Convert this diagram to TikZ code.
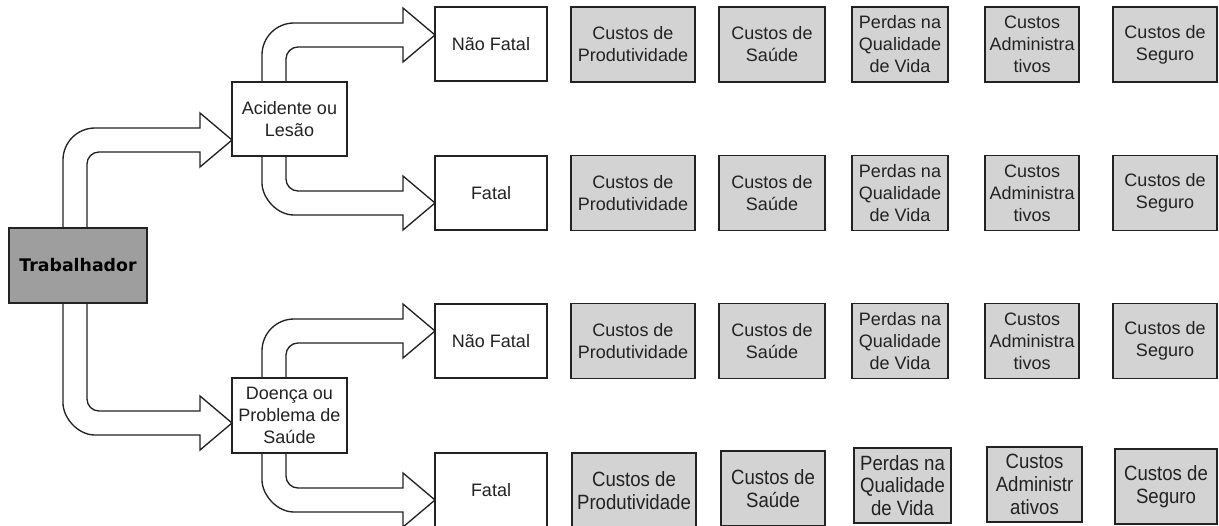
\documentclass[tikz,border=0pt]{standalone}
\usepackage{fontspec}
\setmainfont{Liberation Sans}
\newfontfamily\djv{DejaVu Sans}
\newfontfamily\narrowfam[FakeStretch=0.9]{Liberation Sans}
\definecolor{boxgray}{HTML}{D3D3D3}
\definecolor{darkgray}{HTML}{9E9E9E}
\definecolor{edge}{HTML}{222222}
\tikzset{
  wbox/.style={draw=edge, line width=1pt, fill=white, align=center, inner sep=0pt,
    text=edge, font=\fontsize{13.5}{16.5}\selectfont},
  gbox/.style={wbox, fill=boxgray},
  gboxn/.style={gbox, font=\narrowfam\fontsize{15.5}{17}\selectfont},
  sz/.style 2 args={minimum width=#1*0.75pt, minimum height=#2*0.75pt},
  barrow/.style={draw=edge, line width=1pt, fill=white, line join=miter},
}
% up-right block arrow: #1 outer x, #2 inner x, #3 start y, #4 centre y, #5 head x, #6 tip x
\newcommand{\uparr}[6]{%
  \draw[barrow] (#1,#3) -- (#1,{#4+20}) .. controls (#1,{#4+2.3}) and ({#1+14.3},{#4-12}) .. ({#1+32},{#4-12})
    -- (#5,{#4-12}) -- (#5,{#4-27}) -- (#6,#4) -- (#5,{#4+27}) -- (#5,{#4+12})
    -- ({#2+12},{#4+12}) .. controls ({#2+5.4},{#4+12}) and (#2,{#4+17.4}) .. (#2,{#4+24}) -- (#2,#3);}
% down-right block arrow
\newcommand{\dnarr}[6]{%
  \draw[barrow] (#2,#3) -- (#2,{#4-24}) .. controls (#2,{#4-17.4}) and ({#2+5.4},{#4-12}) .. ({#2+12},{#4-12})
    -- (#5,{#4-12}) -- (#5,{#4-27}) -- (#6,#4) -- (#5,{#4+27}) -- (#5,{#4+12})
    -- ({#1+32},{#4+12}) .. controls ({#1+14.3},{#4+12}) and (#1,{#4-5.7}) .. (#1,{#4-20}) -- (#1,#3);}
\begin{document}
\begin{tikzpicture}[x=0.75pt,y=-0.75pt]
\useasboundingbox (0,0) rectangle (1219,525);
\clip (0,0) rectangle (1219,525);

% block arrows
\uparr{63}{87}{228}{140}{200}{232}
\dnarr{63}{87}{303}{423}{200}{232}
\uparr{262}{286}{82}{35}{403}{435}
\dnarr{262}{286}{156}{203}{403}{435}
\uparr{262}{286}{378}{331}{403}{435}
\dnarr{262}{286}{453}{500}{403}{435}

% main nodes
\node[wbox, sz={138}{75}, fill=darkgray, font=\djv\bfseries\fontsize{13}{15}\selectfont, text=black] (trab) at (78,265.5) {Trabalhador};
\node[wbox, sz={115}{74}] (acid) at (289.5,119) {Acidente ou\\Lesão};
\node[wbox, sz={115}{75}] (doen) at (289.5,415.5) {Doença ou\\Problema de\\Saúde};
\node[wbox, sz={112}{74}] (nf1) at (491,44) {Não Fatal};
\node[wbox, sz={112}{74}] (f1) at (491,193) {Fatal};
\node[wbox, sz={112}{74}] (nf2) at (491,341) {Não Fatal};
\node[wbox, sz={112}{75}] (f2) at (491,490.5) {Fatal};

% cost boxes, rows 1-3
\foreach \r/\y in {1/44.5,2/193,3/341}{
  \node[gbox, sz={124}{75}] (g\r a) at (633,\y) {Custos de\\Produtividade};
  \node[gbox, sz={106}{75}] (g\r b) at (772,\y) {Custos de\\Saúde};
  \node[gbox, sz={96}{75}] (g\r c) at (900,\y) {Perdas na\\Qualidade\\de Vida};
  \node[gbox, sz={94}{75}] (g\r d) at (1032,\y) {Custos\\Administra\\tivos};
  \node[gbox, sz={104}{75}] (g\r e) at (1165,\y) {Custos de\\Seguro};
}
% cost boxes, row 4
\node[gboxn, sz={124}{75}] (g4a) at (634,490.5) {Custos de\\Produtividade};
\node[gboxn, sz={104}{75}] (g4b) at (773,488.5) {Custos de\\Saúde};
\node[gboxn, sz={97}{75}] (g4c) at (902.5,485.5) {Perdas na\\Qualidade\\de Vida};
\node[gboxn, sz={95}{75}] (g4d) at (1034.5,484.5) {Custos\\Administr\\ativos};
\node[gboxn, sz={102}{75}] (g4e) at (1166,486.5) {Custos de\\Seguro};
\end{tikzpicture}
\end{document}
